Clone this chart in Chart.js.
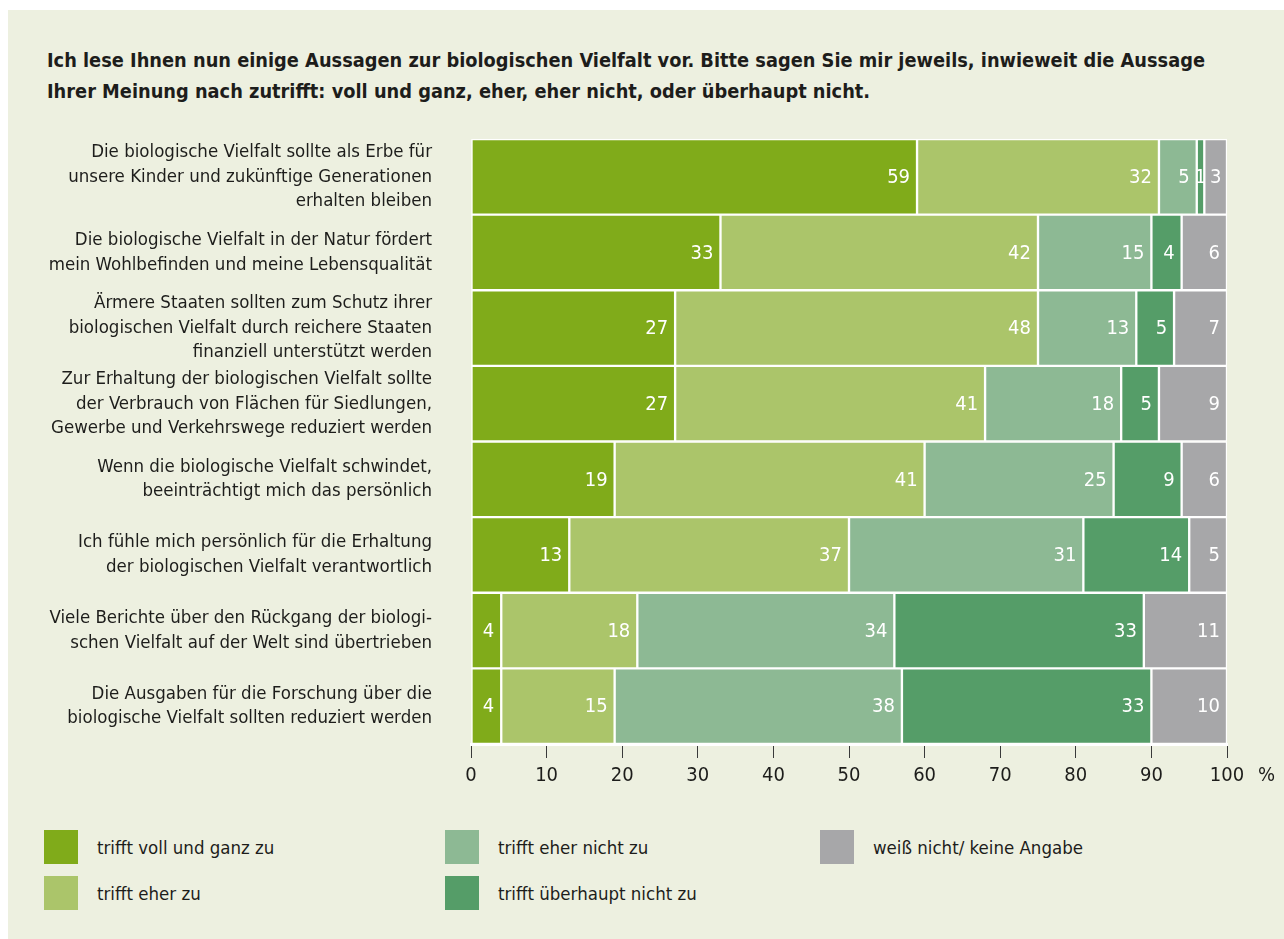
<!DOCTYPE html>
<html lang="de">
<head>
<meta charset="utf-8">
<title>Biologische Vielfalt – Aussagen</title>
<script src="https://cdn.jsdelivr.net/npm/chart.js@4"></script>
<style>
  html, body { margin: 0; padding: 0; background: #fff; }
  body { width: 1284px; height: 939px; position: relative; overflow: hidden;
         font-family: 'Liberation Sans Narrow', 'DejaVu Sans Condensed', Roboto, sans-serif; color: #1d1d1b; }
  #panel { position: absolute; left: 8px; top: 10px; width: 1276px; height: 929px; background: #edf0e0; }
  #title { position: absolute; left: 47px; top: 45px; width: 1230px; margin: 0; white-space: nowrap;
           font-size: 19.8px; font-weight: bold; line-height: 31px; }
  #wrap { position: absolute; left: 0; top: 120px; width: 1284px; height: 680px; }
  #legend { position: absolute; left: 44px; top: 830px; display: grid;
            grid-template-columns: 401px 375px auto; grid-auto-flow: column;
            grid-template-rows: 34px 34px; row-gap: 12px; }
  .item { display: flex; align-items: center; font-size: 18.5px; }
  .item span { display: inline-block; width: 34px; height: 34px; margin-right: 19px; }
</style>
</head>
<body>
<div id="panel"></div>
<p id="title">Ich lese Ihnen nun einige Aussagen zur biologischen Vielfalt vor. Bitte sagen Sie mir jeweils, inwieweit die Aussage<br>Ihrer Meinung nach zutrifft: voll und ganz, eher, eher nicht, oder überhaupt nicht.</p>
<div id="wrap"><canvas id="chart"></canvas></div>
<div id="legend"></div>
<script>
var statements = [
  ["Die biologische Vielfalt sollte als Erbe für", "unsere Kinder und zukünftige Generationen", "erhalten bleiben"],
  ["Die biologische Vielfalt in der Natur fördert", "mein Wohlbefinden und meine Lebensqualität"],
  ["Ärmere Staaten sollten zum Schutz ihrer", "biologischen Vielfalt durch reichere Staaten", "finanziell unterstützt werden"],
  ["Zur Erhaltung der biologischen Vielfalt sollte", "der Verbrauch von Flächen für Siedlungen,", "Gewerbe und Verkehrswege reduziert werden"],
  ["Wenn die biologische Vielfalt schwindet,", "beeinträchtigt mich das persönlich"],
  ["Ich fühle mich persönlich für die Erhaltung", "der biologischen Vielfalt verantwortlich"],
  ["Viele Berichte über den Rückgang der biologi-", "schen Vielfalt auf der Welt sind übertrieben"],
  ["Die Ausgaben für die Forschung über die", "biologische Vielfalt sollten reduziert werden"]
];

var answers = ["trifft voll und ganz zu", "trifft eher zu", "trifft eher nicht zu", "trifft überhaupt nicht zu", "weiß nicht/ keine Angabe"];
var colors = ["#80ab1a", "#abc56a", "#8db994", "#559d68", "#a7a7a9"];

var vollUndGanz = [59, 33, 27, 27, 19, 13, 4, 4];
var eherZu = [32, 42, 48, 41, 41, 37, 18, 15];
var eherNicht = [5, 15, 13, 18, 25, 31, 34, 38];
var ueberhauptNicht = [1, 4, 5, 5, 9, 14, 33, 33];
var weissNicht = [3, 6, 7, 9, 6, 5, 11, 10];

var xTicks = [0, 10, 20, 30, 40, 50, 60, 70, 80, 90, 100];

var fontFamily = "'Liberation Sans Narrow', 'DejaVu Sans Condensed', Roboto, sans-serif";
var series = [vollUndGanz, eherZu, eherNicht, ueberhauptNicht, weissNicht];

// white numbers inside each segment, right aligned unless the segment is too narrow
var valueLabels = {
  id: 'valueLabels',
  afterDatasetsDraw: function(chart) {
    var ctx = chart.ctx;
    ctx.save();
    ctx.font = '20px ' + fontFamily;
    ctx.fillStyle = '#fff';
    ctx.textBaseline = 'middle';
    chart.data.datasets.forEach(function(ds, i) {
      chart.getDatasetMeta(i).data.forEach(function(bar, j) {
        var text = String(ds.data[j]);
        var left = bar.base, right = bar.x;
        var w = ctx.measureText(text).width;
        if (right - left < w + 12) {
          ctx.textAlign = 'center';
          ctx.fillText(text, (left + right) / 2, bar.y + 1);
        } else {
          ctx.textAlign = 'right';
          ctx.fillText(text, right - 7, bar.y + 1);
        }
      });
    });
    ctx.restore();
  },
  afterDraw: function(chart) {
    var x = chart.scales.x;
    var ctx = chart.ctx;
    ctx.save();
    ctx.font = '20px ' + fontFamily;
    ctx.fillStyle = '#1d1d1b';
    ctx.textAlign = 'left';
    ctx.textBaseline = 'middle';
    ctx.fillText('%', x.right + 31, x.top + 32);
    ctx.restore();
  }
};

var chart = new Chart(document.getElementById('chart'), {
  type: 'bar',
  data: {
    labels: statements,
    datasets: series.map(function(values, i) {
      return {
        label: answers[i],
        data: values,
        backgroundColor: colors[i],
        borderColor: '#ffffff',
        borderWidth: 1.5,
        borderSkipped: false,
        barPercentage: 1,
        categoryPercentage: 1
      };
    })
  },
  plugins: [valueLabels],
  options: {
    indexAxis: 'y',
    responsive: true,
    maintainAspectRatio: false,
    animation: false,
    layout: { padding: { left: 0, right: 57, top: 19, bottom: 0 } },
    plugins: { legend: { display: false }, tooltip: { enabled: false } },
    scales: {
      x: {
        stacked: true,
        min: 0,
        max: 100,
        afterBuildTicks: function(scale) {
          scale.ticks = xTicks.map(function(v) { return { value: v }; });
        },
        afterFit: function(scale) {
          scale.height = 56;
          scale.paddingLeft = 0;
          scale.paddingRight = 0;
        },
        grid: { drawOnChartArea: false, drawTicks: true, tickLength: 14, tickColor: '#3a3a3a', tickWidth: 1 },
        border: { display: true, color: '#ffffff', width: 3 },
        ticks: { color: '#1d1d1b', padding: 6, font: { family: fontFamily, size: 20 }, maxRotation: 0, autoSkip: false }
      },
      y: {
        stacked: true,
        afterFit: function(scale) {
          scale.width = 471;
          scale.paddingTop = 0;
          scale.paddingBottom = 0;
        },
        grid: { display: false, drawTicks: false },
        border: { display: false },
        ticks: { color: '#1d1d1b', padding: 39, autoSkip: false, font: { family: fontFamily, size: 18.5, lineHeight: 1.33 } }
      }
    }
  }
});

// legend is laid out in columns, first column filled top to bottom
var legend = document.getElementById('legend');
answers.forEach(function(name, i) {
  var item = document.createElement('div');
  item.className = 'item';
  var box = document.createElement('span');
  box.style.background = colors[i];
  item.appendChild(box);
  item.appendChild(document.createTextNode(name));
  legend.appendChild(item);
});
</script>
</body>
</html>
